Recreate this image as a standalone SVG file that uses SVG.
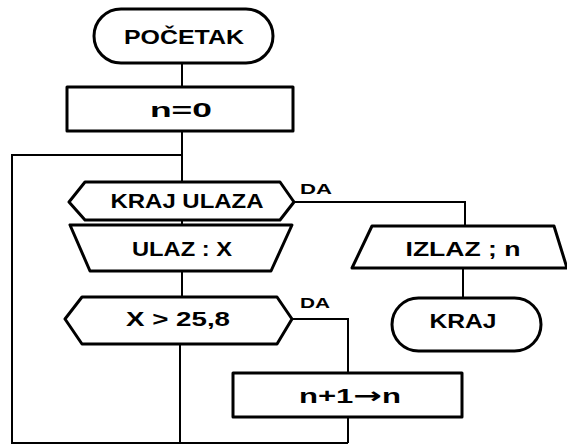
<svg xmlns="http://www.w3.org/2000/svg" width="567" height="446" viewBox="0 0 567 446">
<style>
.shape{fill:none;stroke:#000;stroke-width:3;stroke-linejoin:round}
.conn{fill:none;stroke:#000;stroke-width:2}
.t{font-family:"Liberation Sans","DejaVu Sans",sans-serif;font-size:20px;fill:#000;text-anchor:middle;font-weight:bold}
.lbl{font-family:"Liberation Sans","DejaVu Sans",sans-serif;font-size:15px;fill:#000;font-weight:bold}
.arr{font-family:"DejaVu Sans",sans-serif;font-size:22px}
</style>
<rect width="567" height="446" fill="#fff"/>
<g id="connectors">
<line class="conn" x1="182" y1="63" x2="182" y2="87"/>
<line class="conn" x1="182" y1="131" x2="182" y2="182"/>
<polyline class="conn" points="182,155 12,155 12,443 348,443"/>
<line class="conn" x1="182" y1="220" x2="182" y2="225"/>
<line class="conn" x1="182" y1="271" x2="182" y2="297"/>
<polyline class="conn" points="293,202 465,202 465,226"/>
<line class="conn" x1="463" y1="268" x2="463" y2="298"/>
<polyline class="conn" points="292,319 348,319 348,373"/>
<line class="conn" x1="180" y1="345" x2="180" y2="443"/>
<line class="conn" x1="348" y1="417" x2="348" y2="443"/>
<text class="lbl" x="300" y="194" textLength="32" lengthAdjust="spacingAndGlyphs">DA</text>
<text class="lbl" x="300" y="308" textLength="30" lengthAdjust="spacingAndGlyphs">DA</text>
</g>
<g id="pocetak">
<rect class="shape" x="94" y="9" width="179" height="54" rx="27"/>
<text class="t" x="184" y="44" textLength="120" lengthAdjust="spacingAndGlyphs">POČETAK</text>
</g>
<g id="init">
<rect class="shape" x="67" y="87" width="226" height="44"/>
<text class="t" x="181" y="117" textLength="62" lengthAdjust="spacingAndGlyphs">n=0</text>
</g>
<g id="kraj-ulaza">
<polygon class="shape" points="85,182 280,182 294,202 280,220 85,220 69,202"/>
<text class="t" x="187" y="208" textLength="153" lengthAdjust="spacingAndGlyphs">KRAJ ULAZA</text>
</g>
<g id="ulaz">
<polygon class="shape" points="70,225 292,225 271,271 90,271"/>
<text class="t" x="182" y="256" textLength="100" lengthAdjust="spacingAndGlyphs">ULAZ : X</text>
</g>
<g id="uvjet">
<polygon class="shape" points="82,297 277,297 292,319 277,344 82,344 65,319"/>
<text class="t" x="178" y="326" textLength="104" lengthAdjust="spacingAndGlyphs">X &gt; 25,8</text>
</g>
<g id="increment">
<rect class="shape" x="233" y="373" width="229" height="44"/>
<text class="t" x="350" y="403" textLength="102" lengthAdjust="spacingAndGlyphs">n+1<tspan class="arr">→</tspan>n</text>
</g>
<g id="izlaz">
<polygon class="shape" points="372,226 554,226 567,268 352,268"/>
<text class="t" x="463" y="256" textLength="115" lengthAdjust="spacingAndGlyphs">IZLAZ ; n</text>
</g>
<g id="kraj">
<rect class="shape" x="392" y="298" width="149" height="53" rx="26.5"/>
<text class="t" x="463" y="328" textLength="67" lengthAdjust="spacingAndGlyphs">KRAJ</text>
</g>
</svg>
